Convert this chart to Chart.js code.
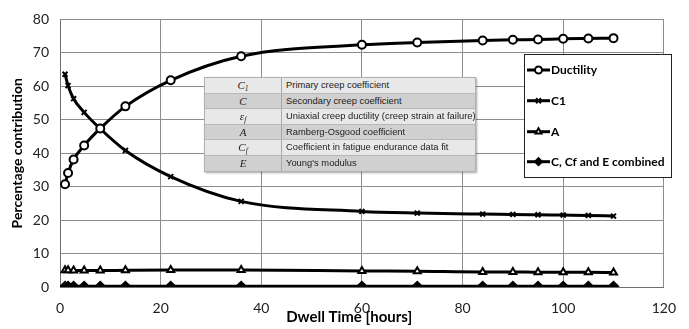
<!DOCTYPE html>
<html>
<head>
<meta charset="utf-8">
<script src="https://cdn.jsdelivr.net/npm/chart.js@4.4.1/dist/chart.umd.min.js"></script>
<style>
  html, body { margin: 0; padding: 0; background: #fff; }
  #wrap { position: relative; width: 689px; height: 329px; }
  canvas { position: absolute; left: 0; top: 0; }
  #tbl { position: absolute; left: 204px; top: 77px; width: 272px; height: 95px;
         box-shadow: 1px 1px 2px rgba(0,0,0,0.35); border: 1px solid #b0b0b0; box-sizing: border-box; }
  #tbl .r { position: relative; height: 15.5px; border-bottom: 1px solid #b8b8b8; box-sizing: border-box; }
  #tbl .r:last-child { border-bottom: none; }
  #tbl .l { background: #e8e8e8; }
  #tbl .k { background: #d0d0d0; }
  #tbl .s { position: absolute; left: 0; top: 0; width: 76px; height: 100%; border-right: 1px solid #a8a8a8;
            text-align: center; font-family: "Liberation Serif", "DejaVu Serif", serif; font-style: italic;
            font-size: 11px; line-height: 14px; color: #222; }
  #tbl .d { position: absolute; left: 81px; top: 0; white-space: nowrap; font-family: "Liberation Sans", Arial, sans-serif;
            font-size: 9.4px; line-height: 14px; color: #222; }
  #tbl sub { font-size: 7.5px; vertical-align: -2px; line-height: 0; }
</style>
</head>
<body>
<div id="wrap">
  <canvas id="c" width="689" height="329"></canvas>
  <div id="tbl">
    <div class="r l"><div class="s">C<sub>1</sub></div><div class="d">Primary creep coefficient</div></div>
    <div class="r k"><div class="s">C</div><div class="d">Secondary creep coefficient</div></div>
    <div class="r l"><div class="s">ε<sub>f</sub></div><div class="d">Uniaxial creep ductility (creep strain at failure)</div></div>
    <div class="r k"><div class="s">A</div><div class="d">Ramberg-Osgood coefficient</div></div>
    <div class="r l"><div class="s">C<sub>f</sub></div><div class="d">Coefficient in fatigue endurance data fit</div></div>
    <div class="r k"><div class="s">E</div><div class="d">Young's modulus</div></div>
  </div>
</div>
<script>
const dwellTime = [1, 1.6, 2.7, 4.8, 8, 13, 22, 36, 60, 71, 84, 90, 95, 100, 105, 110];
const ductility = [30.7, 34.1, 38.1, 42.3, 47.4, 54.0, 61.8, 69.0, 72.4, 73.1, 73.7, 73.9, 74.0, 74.2, 74.3, 74.4];
const c1 = [63.6, 60.2, 56.3, 52.2, 47.3, 40.8, 33.0, 25.6, 22.6, 22.1, 21.8, 21.7, 21.6, 21.5, 21.4, 21.2];
const aCoef = [5.0, 5.0, 4.9, 4.9, 4.9, 5.0, 5.1, 5.1, 4.8, 4.7, 4.5, 4.5, 4.4, 4.4, 4.4, 4.3];
const cCfE = [0.2, 0.2, 0.2, 0.2, 0.2, 0.2, 0.2, 0.2, 0.2, 0.2, 0.2, 0.2, 0.2, 0.2, 0.2, 0.2];
const seriesNames = ["Ductility", "C1", "A", "C, Cf and E combined"];
const xTicks = [0, 20, 40, 60, 80, 100, 120];
const yTicks = [0, 10, 20, 30, 40, 50, 60, 70, 80];

const pts = arr => dwellTime.map((x, i) => ({ x: x, y: arr[i] }));
const styles = [
  { pointStyle: 'circle', pointBackgroundColor: '#fff', pointRadius: 4 },
  { pointStyle: 'crossRot', pointBackgroundColor: '#000', pointRadius: 3.5 },
  { pointStyle: 'triangle', pointBackgroundColor: '#fff', pointRadius: 4 },
  { pointStyle: 'rectRot', pointBackgroundColor: '#000', pointRadius: 4.5 }
];
const values = [ductility, c1, aCoef, cCfE];
const datasets = values.map((v, i) => Object.assign({
  label: seriesNames[i], data: pts(v), borderColor: '#000', borderWidth: 3,
  pointBorderColor: '#000', pointBorderWidth: 2, cubicInterpolationMode: 'monotone', fill: false
}, styles[i]));

const FONT = "Lato, 'Open Sans', sans-serif";

const legendPlugin = {
  id: 'boxLegend',
  afterDraw(chart) {
    const ctx = chart.ctx;
    const L = 524, T = 54, R = 671, B = 177;
    ctx.save();
    ctx.fillStyle = '#fff';
    ctx.fillRect(L, T, R - L, B - T);
    ctx.strokeStyle = '#222';
    ctx.lineWidth = 1;
    ctx.strokeRect(L + 0.5, T + 0.5, R - L, B - T);
    const ys = [70, 100.7, 131.7, 161.7];
    chart.data.datasets.forEach((ds, i) => {
      const y = ys[i];
      ctx.strokeStyle = '#000';
      ctx.lineWidth = 3;
      ctx.beginPath(); ctx.moveTo(527, y); ctx.lineTo(550, y); ctx.stroke();
      ctx.fillStyle = ds.pointBackgroundColor;
      ctx.strokeStyle = '#000';
      ctx.lineWidth = 2;
      Chart.helpers.drawPoint(ctx, { pointStyle: ds.pointStyle, radius: 3.5, borderWidth: 2 }, 538.5, y);
      ctx.fillStyle = '#000';
      ctx.font = "bold 12px " + FONT;
      ctx.textBaseline = 'middle';
      ctx.textAlign = 'left';
      ctx.fillText(ds.label, 551, y);
    });
    ctx.restore();
  }
};

new Chart(document.getElementById('c'), {
  type: 'line',
  data: { datasets: datasets },
  plugins: [legendPlugin],
  options: {
    responsive: false,
    animation: false,
    layout: { padding: { left: 4, top: 13, right: 12, bottom: 0 } },
    plugins: { legend: { display: false }, tooltip: { enabled: false } },
    scales: {
      x: {
        type: 'linear', min: 0, max: 120,
        afterBuildTicks: s => { s.ticks = xTicks.map(v => ({ value: v })); },
        afterFit: s => { s.height = 42; },
        grid: { color: '#8c8c8c', drawTicks: false },
        border: { color: '#6e6e6e' },
        ticks: { font: { size: 14, family: FONT }, color: '#222', padding: 13 },
        title: { display: true, text: 'Dwell Time [hours]\u00a0\u00a0\u00a0\u00a0\u00a0\u00a0\u00a0', font: { size: 15, weight: 'bold', family: FONT }, color: '#000', padding: { top: 0, bottom: 3 } }
      },
      y: {
        min: 0, max: 80,
        afterBuildTicks: s => { s.ticks = yTicks.map(v => ({ value: v })); },
        afterFit: s => { s.width = 56; },
        grid: { color: '#8c8c8c', drawTicks: false },
        border: { color: '#6e6e6e' },
        ticks: { font: { size: 14, family: FONT }, color: '#222', padding: 11 },
        title: { display: true, text: 'Percentage contribution', font: { size: 14, weight: 'bold', family: FONT }, color: '#000', padding: { top: 5, bottom: 0 } }
      }
    }
  }
});
</script>
</body>
</html>
